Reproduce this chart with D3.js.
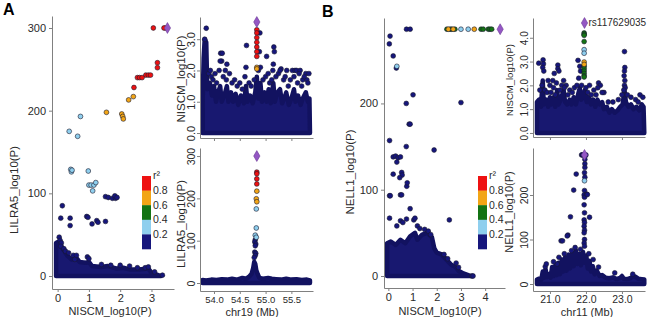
<!DOCTYPE html>
<html>
<head>
<meta charset="utf-8">
<script src="https://cdn.jsdelivr.net/npm/d3@7"></script>
<style>
body { margin: 0; background: #fff; }
text { font-family: "Liberation Sans", Arial, sans-serif; fill: #2a2a2a; }
</style>
</head>
<body>
<div id="chart-area"></div>
<script>
// r2 classes: 0 = <0.2, 1 = 0.2-0.4, 2 = 0.4-0.6, 3 = 0.6-0.8, 4 = >0.8
var r2Colors = ["#16167c", "#8fcfee", "#137313", "#f2a516", "#ee1111"];
var legendLabels = ["0.2", "0.4", "0.6", "0.8"];

// ---- panel A, NISCM vs LILRA5 ----
var aScatterLead = [[3.51, 300]];
var aScatterDots = [
  [3.40, 300, 4], [3.45, 300, 3], [3.06, 300, 4],
  [3.19, 258, 4], [3.19, 252, 4],
  [2.82, 243, 4], [2.90, 243, 4], [2.97, 243, 4],
  [2.55, 240, 4], [2.62, 240, 4], [2.70, 240, 4], [2.44, 228, 4],
  [2.42, 217, 3], [2.27, 213, 3],
  [2.05, 196, 3], [2.08, 193, 3], [2.10, 190, 3], [1.56, 198, 3],
  [0.73, 193, 1], [0.37, 175, 1], [0.64, 169, 1],
  [0.42, 129, 1], [0.44, 126, 1], [0.46, 128, 1], [0.98, 127, 1],
  [1.00, 110, 1], [1.07, 110, 1], [1.16, 110, 1], [1.22, 113, 1], [1.12, 103, 1],
  [1.53, 96, 0], [1.62, 95, 0], [1.75, 94, 0], [1.85, 94, 0], [1.83, 97, 0], [1.90, 95, 0],
  [0.15, 85, 0], [0.10, 70, 0], [0.40, 70, 0], [0.40, 61, 0], [0.93, 72, 0], [0.97, 71, 0],
  [1.25, 67, 0], [1.29, 65, 0], [1.10, 63, 0], [1.53, 66, 0],
  [0.05, 47, 0], [0.08, 43, 0], [0.12, 40, 0], [0.10, 36, 0], [0.20, 33, 0], [0.25, 30, 0],
  [0.35, 28, 0], [0.50, 25, 0], [0.60, 25, 0], [0.55, 20, 0], [0.95, 23, 0], [1.00, 21, 0],
  [1.40, 14, 0], [1.70, 13, 0], [2.00, 13, 0],
  [2.30, 12, 0], [2.55, 10, 0], [2.80, 10, 0], [2.90, 11, 0], [3.10, 5, 0], [3.35, 1, 0]
];
var aScatterCloud = [
  [-0.05, 0], [-0.05, 40], [0.05, 42], [0.12, 36], [0.2, 31], [0.3, 25], [0.45, 20], [0.6, 22],
  [0.7, 17], [0.9, 16], [1.0, 17], [1.1, 12], [1.4, 11], [1.6, 12], [1.9, 9], [2.1, 10],
  [2.3, 8], [2.6, 8], [2.9, 9], [3.0, 4], [3.15, 2], [3.3, 0]
];

var aTopLead = [[54.83, 3.55]];
var aTopDots = [
  [53.85, 3.35, 0], [53.82, 3.0, 0], [54.13, 2.55, 0], [54.16, 2.55, 0], [54.15, 2.3, 0],
  [54.25, 2.2, 0], [54.62, 2.1, 0], [54.63, 2.8, 0], [54.89, 3.2, 0], [54.88, 2.6, 0],
  [55.02, 2.45, 0], [55.16, 2.75, 0], [55.17, 2.6, 0], [55.15, 2.2, 0], [55.30, 2.05, 0],
  [55.41, 2.0, 0], [55.52, 2.0, 0], [55.57, 2.0, 0], [55.60, 2.0, 0], [55.67, 2.0, 0],
  [55.72, 1.7, 0], [55.78, 1.9, 0], [55.80, 1.7, 0],
  [53.90, 1.9, 0], [53.93, 2.0, 0], [53.95, 1.8, 0], [53.98, 1.7, 0], [54.02, 1.9, 0],
  [54.05, 1.6, 0], [54.10, 2.0, 0], [54.12, 2.3, 0], [54.18, 1.8, 0], [54.22, 2.0, 0],
  [54.24, 1.7, 0], [54.30, 1.9, 0], [54.35, 1.6, 0], [54.40, 1.7, 0], [54.45, 1.5, 0],
  [54.50, 1.6, 0], [54.55, 1.4, 0], [54.60, 1.8, 0], [54.68, 1.6, 0], [54.72, 1.5, 0],
  [54.78, 1.7, 0], [54.86, 2.0, 0], [54.90, 2.1, 0], [54.95, 1.7, 0], [55.00, 1.8, 0],
  [55.05, 1.9, 0], [55.08, 1.6, 0], [55.12, 1.7, 0], [55.14, 2.0, 0], [55.20, 1.8, 0],
  [55.25, 1.9, 0], [55.28, 2.0, 0], [55.35, 1.7, 0], [55.38, 1.8, 0], [55.44, 1.5, 0],
  [55.48, 1.7, 0], [55.55, 1.8, 0], [55.62, 1.6, 0], [55.65, 1.9, 0], [55.70, 1.5, 0],
  [55.75, 1.8, 0], [55.82, 1.6, 0], [55.84, 1.9, 0],
  [54.83, 3.3, 4], [54.83, 3.2, 4], [54.83, 3.05, 4], [54.83, 2.9, 4], [54.83, 2.75, 4],
  [54.83, 2.6, 4], [54.83, 2.45, 4], [54.83, 2.1, 3], [54.83, 2.05, 3]
];
var aTopCloud = [
  [53.78, 0], [53.78, 1.0], [53.80, 2.4], [53.82, 3.0], [53.85, 2.9], [53.87, 1.4], [53.92, 1.6],
  [53.96, 1.2], [54.00, 1.5], [54.04, 1.0], [54.08, 1.3], [54.12, 1.5], [54.15, 1.0], [54.20, 1.2],
  [54.25, 1.5], [54.28, 1.0], [54.33, 1.3], [54.37, 1.0], [54.42, 1.25], [54.47, 0.9], [54.52, 1.2],
  [54.58, 0.95], [54.62, 1.5], [54.65, 1.0], [54.70, 1.2], [54.75, 0.95], [54.80, 1.3], [54.83, 1.8],
  [54.86, 1.1], [54.90, 1.6], [54.93, 1.0], [54.98, 1.3], [55.02, 1.0], [55.06, 1.4], [55.10, 0.95],
  [55.15, 1.6], [55.18, 1.0], [55.23, 1.3], [55.28, 1.4], [55.32, 0.95], [55.36, 1.1], [55.40, 1.3],
  [55.45, 0.9], [55.50, 1.1], [55.55, 1.4], [55.58, 1.0], [55.63, 1.2], [55.68, 0.9], [55.72, 1.1],
  [55.78, 1.3], [55.82, 1.0], [55.85, 1.1], [55.86, 0]
];

var aBotLead = [[54.83, 300]];
var aBotDots = [
  [54.83, 262, 4], [54.83, 258, 4], [54.83, 246, 4], [54.83, 234, 4], [54.83, 217, 3],
  [54.82, 199, 3], [54.83, 192, 3], [54.82, 175, 1], [54.82, 130, 1], [54.80, 113, 1],
  [54.82, 108, 1], [54.80, 102, 0], [54.79, 97, 0], [54.81, 92, 0], [54.80, 88, 0],
  [54.79, 73, 0], [54.81, 70, 0], [54.80, 65, 0], [54.78, 60, 0]
];
var aBotCloud = [
  [53.78, 0], [53.78, 7], [53.85, 6], [53.95, 8], [54.05, 7], [54.15, 9], [54.25, 8], [54.35, 10],
  [54.45, 8], [54.55, 12], [54.62, 10], [54.68, 15], [54.73, 22], [54.76, 35], [54.78, 50],
  [54.80, 45], [54.82, 30], [54.85, 20], [54.88, 12], [54.95, 10], [55.05, 12], [55.12, 10],
  [55.20, 9], [55.30, 8], [55.40, 10], [55.50, 8], [55.60, 9], [55.70, 7], [55.80, 8],
  [55.86, 6], [55.86, 0]
];

// ---- panel B, NISCM vs NELL1 ----
var bScatterLead = [[4.62, 286]];
var bScatterDots = [
  [0.75, 286, 0], [0.90, 286, 0],
  [2.42, 286, 2], [2.48, 286, 3], [2.55, 286, 2], [2.62, 286, 2], [2.68, 286, 3], [2.75, 286, 2],
  [3.00, 286, 1], [3.30, 286, 1], [3.55, 286, 3], [3.83, 286, 2], [3.92, 286, 2],
  [4.13, 286, 2], [4.20, 286, 2], [4.27, 286, 2],
  [0.07, 278, 0], [0.04, 269, 0], [0.20, 255, 0], [0.35, 243, 1], [0.33, 241, 0],
  [1.02, 210, 0], [0.74, 200, 0], [3.00, 201, 0], [0.86, 176, 0], [0.90, 176, 0],
  [0.74, 150, 0], [1.89, 146, 0], [0.05, 157, 0], [0.20, 138, 0], [0.30, 139, 0],
  [0.40, 137, 0], [0.50, 138, 0], [0.35, 132, 0], [0.20, 118, 0], [0.55, 120, 0],
  [0.57, 117, 0], [0.47, 114, 0], [0.05, 93, 0], [0.08, 93, 0], [0.50, 94, 0], [0.55, 94, 0],
  [0.76, 104, 0], [0.78, 108, 0], [0.05, 67, 0], [0.90, 78, 0], [2.52, 65, 0], [0.50, 64, 0],
  [0.75, 66, 0], [1.05, 65, 0], [1.10, 67, 0], [0.60, 62, 0],
  [0.35, 58, 0], [1.20, 58, 0], [1.30, 55, 0], [1.50, 54, 0], [1.65, 52, 0], [1.75, 48, 0],
  [2.30, 25, 0], [2.45, 20, 0], [2.80, 15, 0], [2.90, 10, 0], [3.45, 0, 0], [3.50, 0, 0]
];
var bScatterCloud = [
  [-0.05, 0], [-0.05, 38], [0.1, 40], [0.3, 36], [0.5, 42], [0.7, 38], [0.9, 46], [1.1, 50],
  [1.2, 42], [1.4, 48], [1.6, 50], [1.8, 45], [1.9, 32], [2.0, 27], [2.2, 25], [2.4, 19],
  [2.6, 13], [2.8, 10], [2.9, 6], [3.1, 3], [3.3, 1], [3.4, 0]
];

var bTopLead = [[21.96, 4.62]];
var bTopDots = [
  [20.69, 2.93, 0], [20.81, 3.07, 0], [20.82, 2.9, 0], [20.80, 2.75, 0], [20.83, 2.6, 0],
  [20.95, 2.2, 0], [21.08, 2.2, 0], [21.12, 2.5, 0], [21.22, 2.85, 0], [21.22, 2.7, 0],
  [21.25, 2.6, 0], [21.45, 2.0, 0], [21.78, 3.05, 0], [21.83, 2.8, 0], [21.85, 2.6, 0],
  [22.10, 2.0, 0], [22.35, 2.1, 0], [22.40, 2.0, 0], [22.50, 1.7, 0], [23.07, 3.42, 0],
  [23.08, 2.75, 0], [23.07, 2.6, 0], [23.06, 2.4, 0], [23.08, 2.2, 0], [23.07, 2.0, 0],
  [23.09, 1.9, 0], [23.50, 1.6, 0],
  [20.72, 1.8, 0], [20.78, 2.0, 0], [20.86, 1.8, 0], [20.92, 1.7, 0], [21.00, 2.0, 0],
  [21.03, 1.7, 0], [21.10, 1.9, 0], [21.15, 1.6, 0], [21.18, 2.1, 0], [21.28, 1.8, 0],
  [21.33, 2.0, 0], [21.38, 2.2, 0], [21.40, 1.9, 0], [21.50, 1.6, 0], [21.55, 1.8, 0],
  [21.62, 1.7, 0], [21.68, 1.9, 0], [21.75, 2.0, 0], [21.80, 2.3, 0], [21.88, 2.0, 0],
  [22.00, 1.9, 0], [22.05, 1.7, 0], [22.15, 1.6, 0], [22.22, 1.8, 0], [22.28, 1.6, 0],
  [22.33, 1.9, 0], [22.45, 1.7, 0], [22.62, 1.3, 0], [22.75, 1.3, 0], [22.90, 1.4, 0],
  [23.00, 1.6, 0], [23.05, 1.8, 0], [23.15, 1.6, 0], [23.25, 1.5, 0], [23.38, 1.4, 0],
  [23.45, 1.3, 0], [23.58, 1.5, 0],
  [21.95, 4.2, 2], [21.95, 4.15, 2], [21.95, 4.1, 2], [21.95, 3.84, 2], [21.95, 3.5, 1],
  [21.95, 3.35, 1], [21.95, 2.98, 3], [21.95, 2.88, 3], [21.95, 2.8, 2], [21.95, 2.7, 2],
  [21.95, 2.6, 2], [21.95, 2.5, 2], [21.95, 2.4, 2], [21.95, 2.35, 2]
];
var bTopCloud = [
  [20.64, 0], [20.64, 1.3], [20.70, 1.4], [20.75, 1.1], [20.80, 2.2], [20.83, 1.2], [20.90, 1.4],
  [20.95, 1.1], [21.00, 1.5], [21.05, 1.2], [21.10, 1.5], [21.15, 1.1], [21.20, 1.8], [21.24, 1.2],
  [21.30, 1.4], [21.38, 1.8], [21.42, 1.3], [21.48, 1.2], [21.55, 1.4], [21.60, 1.2], [21.66, 1.5],
  [21.72, 1.2], [21.78, 1.6], [21.83, 1.9], [21.87, 1.4], [21.92, 1.5], [21.97, 1.8], [22.02, 1.3],
  [22.08, 1.5], [22.14, 1.2], [22.20, 1.4], [22.26, 1.1], [22.32, 1.4], [22.38, 1.2], [22.45, 1.3],
  [22.50, 1.0], [22.58, 1.1], [22.65, 0.85], [22.72, 1.0], [22.80, 0.85], [22.88, 0.95], [22.95, 1.1],
  [23.02, 1.2], [23.07, 1.8], [23.11, 1.3], [23.18, 1.1], [23.25, 1.2], [23.32, 1.0], [23.40, 1.1],
  [23.48, 0.95], [23.55, 1.2], [23.60, 1.1], [23.62, 0]
];

var bBotLead = [[21.96, 290]];
var bBotDots = [
  [21.88, 290, 0], [21.90, 290, 0], [21.93, 290, 0], [21.98, 288, 0], [22.00, 290, 0],
  [21.97, 280, 0], [21.97, 270, 0], [21.97, 262, 0], [21.96, 250, 0], [21.97, 240, 0],
  [21.96, 232, 1], [21.96, 210, 0], [21.95, 200, 0], [21.96, 195, 0], [21.95, 178, 0],
  [21.96, 160, 0], [21.95, 144, 0], [21.96, 138, 0], [21.95, 130, 0], [21.96, 121, 0],
  [21.95, 115, 0], [21.96, 100, 0], [21.95, 92, 0], [21.96, 85, 0], [22.02, 202, 0],
  [22.04, 201, 0], [22.10, 150, 0], [21.73, 247, 0], [21.66, 211, 0], [21.57, 151, 0],
  [21.50, 110, 0], [21.48, 108, 0], [21.31, 97, 0], [21.35, 97, 0], [20.87, 39, 0],
  [20.90, 45, 0], [21.20, 45, 0], [22.80, 25, 0], [23.30, 22, 0],
  [21.40, 68, 0], [21.60, 75, 0], [21.70, 82, 0], [21.85, 78, 0], [22.08, 68, 0],
  [22.20, 55, 0], [22.35, 38, 0], [21.10, 50, 0], [21.25, 60, 0]
];
var bBotCloud = [
  [20.64, 0], [20.64, 10], [20.70, 12], [20.76, 10], [20.80, 28], [20.83, 14], [20.88, 33],
  [20.92, 15], [20.98, 22], [21.02, 14], [21.06, 38], [21.10, 18], [21.15, 42], [21.19, 20],
  [21.24, 48], [21.28, 22], [21.33, 55], [21.37, 28], [21.42, 60], [21.46, 30], [21.52, 66],
  [21.56, 35], [21.62, 70], [21.66, 40], [21.72, 76], [21.76, 45], [21.82, 68], [21.86, 42],
  [21.92, 72], [21.96, 48], [22.01, 64], [22.05, 35], [22.10, 52], [22.14, 28], [22.19, 40],
  [22.24, 22], [22.30, 30], [22.38, 18], [22.45, 20], [22.55, 14], [22.65, 13], [22.75, 15],
  [22.85, 11], [22.95, 14], [23.00, 18], [23.05, 12], [23.15, 11], [23.25, 14], [23.32, 18],
  [23.38, 16], [23.45, 12], [23.55, 11], [23.62, 10], [23.62, 0]
];

var aScatterXTicks = [0, 1, 2, 3], aScatterYTicks = [0, 100, 200, 300];
var aTopYTicks = [0, 1, 2, 3], aBotYTicks = [0, 100, 200, 300];
var chr19Ticks = [54.0, 54.5, 55.0, 55.5];
var bScatterXTicks = [0, 1, 2, 3, 4], bScatterYTicks = [0, 100, 200];
var bTopYTicks = [0, 1, 2, 3, 4], bBotYTicks = [0, 100, 200];
var chr11Ticks = [21.0, 22.0, 23.0];

var svg = d3.select("#chart-area")
  .append("svg")
  .attr("width", 650)
  .attr("height", 317);

var navyCloud = "#181870";

function drawPanel(p) {
  var x = d3.scaleLinear().domain(p.xDomain).range([p.left, p.right]);
  var y = d3.scaleLinear().domain(p.yDomain).range([p.bottom, p.top]);
  var g = svg.append("g");

  // dense cloud of points as a filled envelope
  var area = d3.area()
    .x(function(d) { return x(d[0]); })
    .y0(y(0))
    .y1(function(d) { return y(d[1]); });
  g.append("path")
    .datum(p.cloud)
    .attr("d", area)
    .attr("fill", navyCloud)
    .attr("stroke", "#121260")
    .attr("stroke-width", 4.5)
    .attr("stroke-linejoin", "round");

  var dots = p.dots.slice().sort(function(a, b) { return a[2] - b[2]; });
  g.selectAll("circle.pt")
    .data(dots)
    .enter()
    .append("circle")
    .attr("class", "pt")
    .attr("cx", function(d) { return x(d[0]); })
    .attr("cy", function(d) { return y(d[1]); })
    .attr("r", 2.4)
    .attr("fill", function(d) { return r2Colors[d[2]]; })
    .attr("stroke", "#1a1a2e")
    .attr("stroke-width", 0.6);

  g.selectAll("path.lead")
    .data(p.lead)
    .enter()
    .append("path")
    .attr("class", "lead")
    .attr("d", d3.symbol().type(d3.symbolDiamond).size(34))
    .attr("transform", function(d) { return "translate(" + x(d[0]) + "," + y(d[1]) + ")"; })
    .attr("fill", "#9457c4")
    .attr("stroke", "#6b3a96")
    .attr("stroke-width", 0.6);

  // axes
  var xAxis = d3.axisBottom(x).tickValues(p.xTicks).tickSize(3).tickSizeOuter(0)
    .tickPadding(2).tickFormat(p.xFormat);
  var xg = g.append("g")
    .attr("transform", "translate(0," + p.bottom + ")")
    .call(xAxis);
  var yAxis = d3.axisLeft(y).tickValues(p.yTicks).tickSize(3).tickSizeOuter(0);
  var yg = g.append("g")
    .attr("transform", "translate(" + p.left + ",0)")
    .call(yAxis);

  [xg, yg].forEach(function(ax) {
    ax.attr("font-family", null).attr("font-size", null);
    ax.select(".domain").attr("stroke", "#808080");
    ax.selectAll(".tick line").attr("stroke", "#808080");
    ax.selectAll(".tick text").attr("fill", "#2a2a2a");
  });
  xg.selectAll(".tick text").style("font-size", p.xTickFont + "px");
  yg.selectAll(".tick text").style("font-size", p.yTickFont + "px");

  if (p.rotateY) {
    yg.selectAll(".tick text")
      .attr("x", null).attr("dy", null)
      .attr("text-anchor", "middle")
      .attr("transform", "translate(-5,0) rotate(-90)");
  }

  if (p.xTitle) {
    g.append("text")
      .attr("x", p.xTitle[1]).attr("y", p.xTitle[2])
      .attr("text-anchor", "middle")
      .style("font-size", "11px")
      .text(p.xTitle[0]);
  }
  g.append("text")
    .attr("transform", "translate(" + p.yTitle[1] + "," + p.yTitle[2] + ") rotate(-90)")
    .attr("text-anchor", "middle")
    .style("font-size", p.yTitle[3] + "px")
    .text(p.yTitle[0]);

  return { x: x, y: y };
}

function fmt1(d) { return d3.format(".1f")(d); }

drawPanel({
  xDomain: [-0.18, 3.72], yDomain: [-15.7, 314.5],
  left: 52, right: 174, top: 16, bottom: 289,
  cloud: aScatterCloud, dots: aScatterDots, lead: aScatterLead,
  xTicks: aScatterXTicks, yTicks: aScatterYTicks, xFormat: d3.format("d"),
  xTickFont: 11, yTickFont: 11,
  xTitle: ["NISCM_log10(P)", 110, 315], yTitle: ["LILRA5_log10(P)", 18, 190, 11.5]
});
drawPanel({
  xDomain: [53.729, 55.919], yDomain: [-0.16, 3.71],
  left: 200, right: 313, top: 17, bottom: 138,
  cloud: aTopCloud, dots: aTopDots, lead: aTopLead,
  xTicks: chr19Ticks, yTicks: aTopYTicks, xFormat: "", xTickFont: 10, yTickFont: 11, rotateY: true,
  yTitle: ["NISCM_log10(P)", 185, 79, 11.5]
});
drawPanel({
  xDomain: [53.729, 55.919], yDomain: [-18.9, 319],
  left: 200, right: 313, top: 148, bottom: 291,
  cloud: aBotCloud, dots: aBotDots, lead: aBotLead,
  xTicks: chr19Ticks, yTicks: aBotYTicks, xFormat: fmt1, xTickFont: 9.5, yTickFont: 10.5, rotateY: true,
  xTitle: ["chr19 (Mb)", 252, 315.5], yTitle: ["LILRA5_log10(P)", 185, 224, 11.5]
});
drawPanel({
  xDomain: [-0.18, 4.82], yDomain: [-13.9, 299],
  left: 384, right: 505, top: 18, bottom: 288,
  cloud: bScatterCloud, dots: bScatterDots, lead: bScatterLead,
  xTicks: bScatterXTicks, yTicks: bScatterYTicks, xFormat: d3.format("d"),
  xTickFont: 11, yTickFont: 11,
  xTitle: ["NISCM_log10(P)", 440, 315], yTitle: ["NELL1_log10(P)", 354, 172, 11.5]
});
var bTop = drawPanel({
  xDomain: [20.53, 23.64], yDomain: [-0.17, 4.83],
  left: 533, right: 645, top: 18, bottom: 137,
  cloud: bTopCloud, dots: bTopDots, lead: bTopLead,
  xTicks: chr11Ticks, yTicks: bTopYTicks, xFormat: "", xTickFont: 10, yTickFont: 10, rotateY: true,
  yTitle: ["NISCM_log10(P)", 513, 80, 9.5]
});
drawPanel({
  xDomain: [20.53, 23.64], yDomain: [-15.7, 305.6],
  left: 533, right: 645, top: 148, bottom: 291,
  cloud: bBotCloud, dots: bBotDots, lead: bBotLead,
  xTicks: chr11Ticks, yTicks: bBotYTicks, xFormat: fmt1, xTickFont: 10.5, yTickFont: 10.5, rotateY: true,
  xTitle: ["chr11 (Mb)", 587, 316], yTitle: ["NELL1_log10(P)", 513, 212, 11]
});

// lead SNP label
svg.append("text")
  .attr("x", bTop.x(bTopLead[0][0]) + 4)
  .attr("y", bTop.y(bTopLead[0][1]) + 3.5)
  .style("font-size", "10px")
  .text("rs117629035");

// r2 legends
function drawLegend(lx, ly) {
  var segH = 14.6, segW = 9;
  var lg = svg.append("g").attr("transform", "translate(" + lx + "," + ly + ")");
  lg.selectAll("rect")
    .data(r2Colors.slice().reverse())
    .enter()
    .append("rect")
    .attr("x", 0)
    .attr("y", function(d, i) { return i * segH; })
    .attr("width", segW)
    .attr("height", segH + 0.3)
    .attr("fill", function(d) { return d; });
  lg.selectAll("text.lab")
    .data(legendLabels)
    .enter()
    .append("text")
    .attr("class", "lab")
    .attr("x", segW + 2)
    .attr("y", function(d, i) { return (4 - i) * segH; })
    .attr("dy", "0.35em")
    .style("font-size", "10.5px")
    .text(function(d) { return d; });
  lg.append("text")
    .attr("x", segW + 2)
    .attr("y", 3)
    .style("font-size", "10.5px")
    .text("r²");
}
drawLegend(142, 176);
drawLegend(478, 176);

// panel letters
svg.append("text").attr("x", 3).attr("y", 15)
  .style("font-size", "16px").style("font-weight", "bold").style("fill", "#000").text("A");
svg.append("text").attr("x", 322).attr("y", 17)
  .style("font-size", "16px").style("font-weight", "bold").style("fill", "#000").text("B");
</script>
</body>
</html>
